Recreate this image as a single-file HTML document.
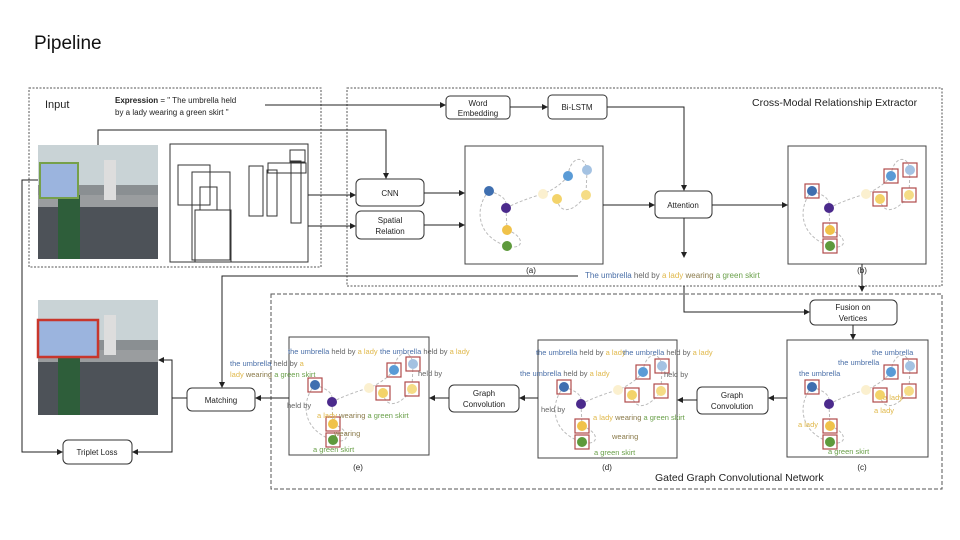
<!DOCTYPE html>
<html><head><meta charset="utf-8"><style>
body{margin:0;background:#fff;width:960px;height:540px;overflow:hidden}
svg{display:block;font-family:"Liberation Sans",sans-serif}
</style></head><body>
<svg width="960" height="540" viewBox="0 0 960 540" xmlns="http://www.w3.org/2000/svg">
<defs>
<marker id="ar" markerWidth="6" markerHeight="6" refX="5" refY="3" orient="auto"><path d="M0,0 L6,3 L0,6z" fill="#222"/></marker>
<g id="nodesA">
<path d="M24,45 C10,60 10,90 42,100 M42,84 C60,90 60,105 42,100 M24,45 C40,50 42,55 41,62 M41,62 L42,84 M41,62 C55,55 70,50 78,48 M92,53 C95,70 110,65 121,49 M103,30 C95,40 85,45 78,48 M103,30 C105,10 120,8 122,24 M122,24 L121,49" stroke="#bbb" stroke-dasharray="3,2" fill="none"/>
<circle cx="24" cy="45" r="5" fill="#3f6fb0"/><circle cx="41" cy="62" r="5" fill="#4b2a8c"/>
<circle cx="42" cy="84" r="5" fill="#f0c24a"/><circle cx="42" cy="100" r="5" fill="#5e9a3c"/>
<circle cx="78" cy="48" r="5" fill="#fbf0cf"/><circle cx="92" cy="53" r="5" fill="#f3d36a"/>
<circle cx="121" cy="49" r="5" fill="#f5dc86"/><circle cx="103" cy="30" r="5" fill="#5a9bd6"/>
<circle cx="122" cy="24" r="5" fill="#a4c2e2"/>
</g>
<g id="sq" fill="none" stroke="#b04b4b" stroke-width="1.2">
<rect x="17" y="38" width="14" height="14"/><rect x="35" y="77" width="14" height="14"/><rect x="35" y="93" width="14" height="14"/>
<rect x="85" y="46" width="14" height="14"/><rect x="114" y="42" width="14" height="14"/><rect x="96" y="23" width="14" height="14"/><rect x="115" y="17" width="14" height="14"/>
</g>
</defs>
<text x="34" y="49" font-size="19" fill="#111">Pipeline</text>
<!-- dashed containers -->
<rect x="29" y="88" width="292" height="179" fill="none" stroke="#555" stroke-dasharray="2,1.5"/>
<rect x="347" y="88" width="595" height="198" fill="none" stroke="#555" stroke-dasharray="2,1.5"/>
<rect x="271" y="294" width="671" height="195" fill="none" stroke="#555" stroke-dasharray="4,2"/>
<text x="45" y="108" font-size="11" fill="#222">Input</text>
<text x="115" y="103" font-size="8" fill="#222"><tspan font-weight="bold">Expression</tspan> = " The umbrella held</text>
<text x="115" y="115" font-size="8" fill="#222">by a lady wearing a green skirt "</text>
<text x="752" y="106" font-size="10.5" fill="#222">Cross-Modal Relationship Extractor</text>
<text x="655" y="481" font-size="10.5" fill="#222">Gated Graph Convolutional Network</text>
<!-- photo 1 -->
<g>
<rect x="38" y="145" width="120" height="114" fill="#8a8f92"/>
<rect x="38" y="145" width="120" height="40" fill="#c9d3d6"/>
<rect x="38" y="205" width="120" height="54" fill="#4d5258"/>
<rect x="38" y="195" width="120" height="12" fill="#9a9d9f"/>
<rect x="58" y="195" width="22" height="64" fill="#2e5e3a"/>
<rect x="104" y="160" width="12" height="40" fill="#ddd"/>
<rect x="40" y="163" width="38" height="35" fill="#9bb4de" stroke="#76a04a" stroke-width="2"/>
</g>
<!-- photo 2 -->
<g>
<rect x="38" y="300" width="120" height="115" fill="#8a8f92"/>
<rect x="38" y="300" width="120" height="40" fill="#c9d3d6"/>
<rect x="38" y="360" width="120" height="55" fill="#4d5258"/>
<rect x="38" y="350" width="120" height="12" fill="#9a9d9f"/>
<rect x="58" y="350" width="22" height="65" fill="#2e5e3a"/>
<rect x="104" y="315" width="12" height="40" fill="#ddd"/>
<rect x="38" y="320" width="60" height="37" fill="#9bb4de" stroke="#c8362c" stroke-width="2.5"/>
</g>
<!-- boxes -->
<g fill="none" stroke="#333">
<rect x="170" y="144" width="138" height="118"/>
<rect x="178" y="165" width="32" height="40"/><rect x="192" y="172" width="38" height="88"/>
<rect x="200" y="187" width="17" height="23"/><rect x="195" y="210" width="36" height="52"/>
<rect x="249" y="166" width="14" height="50"/><rect x="267" y="170" width="10" height="46"/>
<rect x="268" y="163" width="38" height="10"/><rect x="291" y="161" width="10" height="62"/><rect x="290" y="150" width="15" height="12"/>
</g>
<!-- rounded boxes -->
<g fill="#fff" stroke="#333" stroke-width="1">
<rect x="446" y="96" width="64" height="23" rx="4"/>
<rect x="548" y="95" width="59" height="24" rx="4"/>
<rect x="356" y="179" width="68" height="27" rx="5"/>
<rect x="356" y="211" width="68" height="28" rx="5"/>
<rect x="655" y="191" width="57" height="27" rx="5"/>
<rect x="810" y="300" width="87" height="25" rx="5"/>
<rect x="697" y="387" width="71" height="27" rx="5"/>
<rect x="449" y="385" width="70" height="27" rx="5"/>
<rect x="187" y="388" width="68" height="23" rx="5"/>
<rect x="63" y="440" width="69" height="24" rx="5"/>
</g>
<g font-size="8" fill="#222" text-anchor="middle">
<text x="478" y="106">Word</text><text x="478" y="116">Embedding</text>
<text x="577" y="110">Bi-LSTM</text>
<text x="390" y="196">CNN</text>
<text x="390" y="223">Spatial</text><text x="390" y="234">Relation</text>
<text x="683" y="208">Attention</text>
<text x="853" y="310">Fusion on</text><text x="853" y="321">Vertices</text>
<text x="732" y="398">Graph</text><text x="732" y="409">Convolution</text>
<text x="484" y="396">Graph</text><text x="484" y="407">Convolution</text>
<text x="221" y="403">Matching</text>
<text x="97" y="455">Triplet Loss</text>
<text x="531" y="273">(a)</text><text x="862" y="273">(b)</text><text x="862" y="470">(c)</text>
<text x="607" y="470">(d)</text><text x="358" y="470">(e)</text>
</g>
<!-- graph boxes -->
<g fill="#fff" stroke="#444">
<rect x="465" y="146" width="138" height="118"/>
<rect x="788" y="146" width="138" height="118"/>
<rect x="787" y="340" width="141" height="117"/>
<rect x="538" y="340" width="139" height="118"/>
<rect x="289" y="337" width="140" height="118"/>
</g>
<use href="#nodesA" x="465" y="146"/>
<use href="#nodesA" x="788" y="146"/><use href="#sq" x="788" y="146"/>
<use href="#nodesA" x="788" y="342"/><use href="#sq" x="788" y="342"/>
<use href="#nodesA" x="540" y="342"/><use href="#sq" x="540" y="342"/>
<use href="#nodesA" x="291" y="340"/><use href="#sq" x="291" y="340"/>
<!-- labels in graphs -->
<g font-size="7.5">
<text x="799" y="376" fill="#4a6fa8">the umbrella</text>
<text x="838" y="365" fill="#4a6fa8">the umbrella</text>
<text x="872" y="355" fill="#4a6fa8">the umbrella</text>
<text x="798" y="427" fill="#e0b84a">a lady</text>
<text x="874" y="413" fill="#e0b84a">a lady</text>
<text x="883" y="400" fill="#e0b84a">a lady</text>
<text x="828" y="454" fill="#6aa04a">a green skirt</text>
<text x="536" y="355"><tspan fill="#4a6fa8">the umbrella</tspan><tspan fill="#666"> held by </tspan><tspan fill="#e0b84a">a lady</tspan></text>
<text x="623" y="355"><tspan fill="#4a6fa8">the umbrella</tspan><tspan fill="#666"> held by </tspan><tspan fill="#e0b84a">a lady</tspan></text>
<text x="520" y="376"><tspan fill="#4a6fa8">the umbrella</tspan><tspan fill="#666"> held by </tspan><tspan fill="#e0b84a">a lady</tspan></text>
<text x="593" y="420"><tspan fill="#e0b84a">a lady </tspan><tspan fill="#8a7a4a">wearing </tspan><tspan fill="#6aa04a">a green skirt</tspan></text>
<text x="612" y="439" fill="#8a7a4a">wearing</text><text x="594" y="455" fill="#6aa04a">a green skirt</text>
<text x="541" y="412" fill="#666">held by</text><text x="664" y="377" fill="#666">held by</text>
<text x="288" y="354"><tspan fill="#4a6fa8">the umbrella</tspan><tspan fill="#666"> held by </tspan><tspan fill="#e0b84a">a lady</tspan></text>
<text x="380" y="354"><tspan fill="#4a6fa8">the umbrella</tspan><tspan fill="#666"> held by </tspan><tspan fill="#e0b84a">a lady</tspan></text>
<text x="230" y="366"><tspan fill="#4a6fa8">the umbrella</tspan><tspan fill="#666"> held by </tspan><tspan fill="#e0b84a">a</tspan></text>
<text x="230" y="377"><tspan fill="#e0b84a">lady </tspan><tspan fill="#8a7a4a">wearing </tspan><tspan fill="#6aa04a">a green skirt</tspan></text>
<text x="317" y="418"><tspan fill="#e0b84a">a lady </tspan><tspan fill="#8a7a4a">wearing </tspan><tspan fill="#6aa04a">a green skirt</tspan></text>
<text x="334" y="436" fill="#8a7a4a">wearing</text><text x="313" y="452" fill="#6aa04a">a green skirt</text>
<text x="287" y="408" fill="#666">held by</text><text x="418" y="376" fill="#666">held by</text>
</g>
<text x="585" y="278" font-size="8"><tspan fill="#4a6fa8">The umbrella</tspan><tspan fill="#666"> held by </tspan><tspan fill="#e0b84a">a lady </tspan><tspan fill="#8a7a4a">wearing </tspan><tspan fill="#6aa04a">a green skirt</tspan></text>
<!-- connectors -->
<g stroke="#222" stroke-width="1" fill="none" marker-end="url(#ar)">
<path d="M265,105 H445"/>
<path d="M510,107 H547"/>
<path d="M607,107 H684 V190"/>
<path d="M98,145 V130 H386 V178"/>
<path d="M308,195 H355"/>
<path d="M308,226 H355"/>
<path d="M424,193 H464"/>
<path d="M424,225 H464"/>
<path d="M603,205 H654"/>
<path d="M712,205 H787"/>
<path d="M684,218 V257"/>
<path d="M684,286 V312 H809"/>
<path d="M862,264 V291"/>
<path d="M853,325 V339"/>
<path d="M787,398 H769"/>
<path d="M697,400 H678"/>
<path d="M538,398 H520"/>
<path d="M449,398 H430"/>
<path d="M289,398 H256"/>
<path d="M578,276 H222 V387"/>
<path d="M187,398 H172 V360 H159"/>
<path d="M172,398 V452 H133"/>
<path d="M38,180 H22 V452 H62"/>
</g>
</svg>
</body></html>
